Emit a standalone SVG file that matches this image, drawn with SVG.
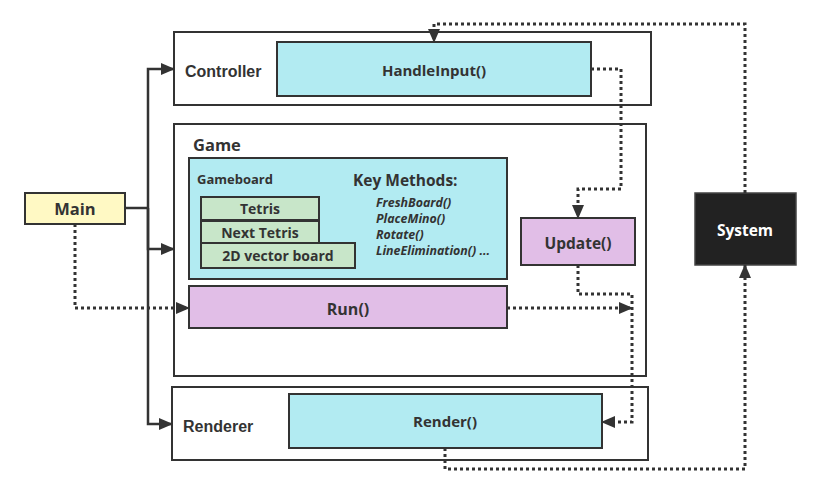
<svg xmlns="http://www.w3.org/2000/svg" width="820" height="494" viewBox="0 0 820 494">
<defs>
<style>
.box{stroke:#333;stroke-width:2}
.c{fill:#b2ebf2}.p{fill:#e1bee7}.g{fill:#c8e6c9}.y{fill:#fff9c4}.w{fill:#fff}
.t{font-family:"Open Sans","Noto Sans",sans-serif;font-weight:bold;fill:#333}
.a{font-family:"Liberation Sans",Arial,sans-serif;font-weight:bold;fill:#333;font-size:16px}
.solid{fill:none;stroke:#333;stroke-width:2.5}
.dot{fill:none;stroke:#333;stroke-width:3;stroke-dasharray:3 3}
</style>
<marker id="ar" markerWidth="14" markerHeight="12" refX="13" refY="6" orient="auto" markerUnits="userSpaceOnUse">
<path d="M0,0 L14,6 L0,12 Z" fill="#333"/>
</marker>
</defs>
<rect width="820" height="494" fill="#fff"/>

<g id="controller">
<rect class="box w" x="174" y="32" width="477" height="73"/>
<text class="a" x="185" y="77">Controller</text>
</g>
<g id="handleinput">
<rect class="box c" x="277" y="42" width="314" height="54"/>
<text class="t" x="434" y="76" font-size="15" text-anchor="middle">HandleInput()</text>
</g>
<g id="game">
<rect class="box w" x="174" y="124" width="472" height="252"/>
<text class="t" x="193" y="151" font-size="16.5">Game</text>
</g>
<g id="gameboard">
<rect class="box c" x="189" y="158" width="318" height="121"/>
<text class="t" x="197" y="184" font-size="13">Gameboard</text>
<text class="t" x="353" y="186" font-size="15.5">Key Methods:</text>
<g class="t" font-size="12.4" font-style="italic">
<text x="376" y="207">FreshBoard()</text>
<text x="376" y="223">PlaceMino()</text>
<text x="376" y="239">Rotate()</text>
<text x="376" y="255">LineElimination() ...</text>
</g>
</g>
<g id="tetris">
<rect class="box g" x="201" y="197" width="118" height="23"/>
<text class="t" x="260" y="214" font-size="14" text-anchor="middle">Tetris</text>
</g>
<g id="nexttetris">
<rect class="box g" x="201" y="221" width="118" height="23"/>
<text class="t" x="260" y="238" font-size="14" text-anchor="middle">Next Tetris</text>
</g>
<g id="vectorboard">
<rect class="box g" x="201" y="243" width="154" height="25"/>
<text class="t" x="278" y="261" font-size="14" text-anchor="middle">2D vector board</text>
</g>
<g id="run">
<rect class="box p" x="189" y="286" width="318" height="42"/>
<text class="t" x="348" y="315" font-size="16" text-anchor="middle">Run()</text>
</g>
<g id="update">
<rect class="box p" x="521" y="218" width="114" height="47"/>
<text class="t" x="578" y="249" font-size="15.5" text-anchor="middle">Update()</text>
</g>
<g id="system">
<rect x="695" y="193" width="101" height="72" fill="#222" stroke="#444" stroke-width="1.5"/>
<text x="745" y="236" font-size="15.5" text-anchor="middle" font-family="Open Sans, Noto Sans, sans-serif" font-weight="bold" fill="#fff">System</text>
</g>
<g id="main">
<rect class="box y" x="25" y="193" width="100" height="31"/>
<text class="t" x="75" y="215" font-size="16.5" text-anchor="middle">Main</text>
</g>
<g id="renderer">
<rect class="box w" x="172" y="387" width="476" height="73"/>
<text class="a" x="183" y="432">Renderer</text>
</g>
<g id="render">
<rect class="box c" x="289" y="394" width="313" height="54"/>
<text class="t" x="445" y="427" font-size="15" text-anchor="middle">Render()</text>
</g>

<g id="connectors">
<path class="solid" d="M125,208 H148"/>
<path class="solid" d="M148,208 V69 H174" marker-end="url(#ar)"/>
<path class="solid" d="M148,208 V249 H174" marker-end="url(#ar)"/>
<path class="solid" d="M148,208 V424 H172" marker-end="url(#ar)"/>
<path class="dot" d="M75,224 V308 H189" marker-end="url(#ar)"/>
<path class="dot" d="M507,308 H632" marker-end="url(#ar)"/>
<path class="dot" d="M578,265 V294 H632 V422 H602" marker-end="url(#ar)"/>
<path class="dot" d="M591,69 H621 V189 H578 V218" marker-end="url(#ar)"/>
<path class="dot" d="M745,193 V24 H434 V42" marker-end="url(#ar)"/>
<path class="dot" d="M445,448 V469 H745 V265" marker-end="url(#ar)"/>
</g>
</svg>
